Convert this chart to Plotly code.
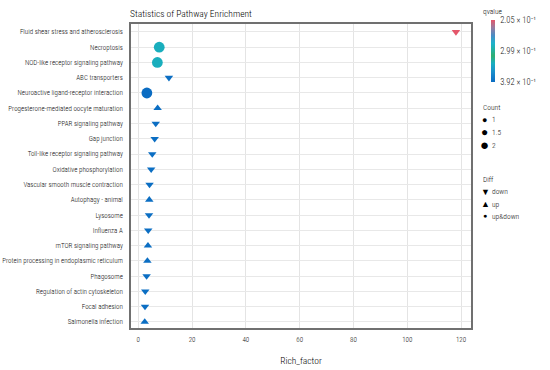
import plotly.graph_objects as go

pathways = [
    "Fluid shear stress and atherosclerosis",
    "Necroptosis",
    "NOD-like receptor signaling pathway",
    "ABC transporters",
    "Neuroactive ligand-receptor interaction",
    "Progesterone-mediated oocyte maturation",
    "PPAR signaling pathway",
    "Gap junction",
    "Toll-like receptor signaling pathway",
    "Oxidative phosphorylation",
    "Vascular smooth muscle contraction",
    "Autophagy - animal",
    "Lysosome",
    "Influenza A",
    "mTOR signaling pathway",
    "Protein processing in endoplasmic reticulum",
    "Phagosome",
    "Regulation of actin cytoskeleton",
    "Focal adhesion",
    "Salmonella infection",
]
rich_factor = [118.1, 7.8, 7.1, 11.4, 3.2, 7.2, 6.5, 6.1, 5.2, 4.8,
               4.2, 4.1, 4.0, 3.7, 3.6, 3.4, 3.1, 2.6, 2.5, 2.4]
qvalue = [0.205, 0.335, 0.335, 0.390, 0.392, 0.390, 0.390, 0.390, 0.390, 0.390,
          0.390, 0.390, 0.390, 0.390, 0.390, 0.390, 0.390, 0.390, 0.390, 0.390]
count = [1, 2, 2, 1, 2, 1, 1, 1, 1, 1, 1, 1, 1, 1, 1, 1, 1, 1, 1, 1]
diff = ["down", "up&down", "up&down", "down", "up&down", "up", "down", "down", "down", "down",
        "down", "up", "down", "down", "up", "up", "down", "down", "down", "up"]

count_labels = ["1", "1.5", "2"]
diff_levels = ["down", "up", "up&down"]
diff_glyphs = ["▼", "▲", "●"]
q_ticks = [0.205, 0.299, 0.392]
q_ticktext = ["2.05 × 10⁻¹", "2.99 × 10⁻¹", "3.92 × 10⁻¹"]

symbol_map = {"down": "triangle-down", "up": "triangle-up", "up&down": "circle"}

def size_of(c):
    return 4 + 3.4 * c

FONT = "Roboto Condensed, Liberation Sans, Arial, sans-serif"
TXT = "#111111"
WEIGHT = 300

# plot area in pixels
PX0, PX1, PY0, PY1 = 131, 471, 24, 328
W, H = 550, 370

def px(x):
    return (x - PX0) / (PX1 - PX0)

def py(y):
    return (PY1 - y) / (PY1 - PY0)

# colour scale: low q (top, red) -> high q (bottom, blue); we plot -q so low q is on top
colorscale = [
    [0.0, "#0a6cc2"],
    [0.15, "#1a8ccc"],
    [0.3, "#18aec0"],
    [0.42, "#2fae72"],
    [0.52, "#22b0a0"],
    [0.62, "#1cb2cc"],
    [0.75, "#4a8cc4"],
    [0.88, "#9a7a9e"],
    [1.0, "#e4566a"],
]

fig = go.Figure()
fig.add_trace(go.Scatter(
    x=rich_factor,
    y=pathways,
    mode="markers",
    showlegend=False,
    marker=dict(
        symbol=[symbol_map[d] for d in diff],
        size=[size_of(c) for c in count],
        color=[-q for q in qvalue],
        cmin=-max(q_ticks),
        cmax=-min(q_ticks),
        colorscale=colorscale,
        opacity=1,
        line=dict(width=0),
        colorbar=dict(
            tickvals=[-q for q in q_ticks],
            ticktext=q_ticktext,
            tickfont=dict(size=8.5, family=FONT, color=TXT, weight=WEIGHT),
            ticks="outside",
            ticklen=4,
            tickcolor="rgba(0,0,0,0)",
            outlinewidth=0,
            thickness=4,
            thicknessmode="pixels",
            len=62,
            lenmode="pixels",
            xref="container",
            yref="container",
            x=491 / W,
            xanchor="left",
            y=1 - 24 / H,
            yanchor="top",
            xpad=0,
            ypad=0,
        ),
    ),
))

annotations = []
def ann(text, x, y, size, xanchor="left", color=TXT, family=FONT):
    annotations.append(dict(
        text=text, x=px(x), y=py(y), xref="paper", yref="paper",
        xanchor=xanchor, yanchor="middle", showarrow=False,
        font=dict(size=size, family=family, color=color, weight=WEIGHT),
    ))

# colorbar title
ann("qvalue", 481, 12, 7.5)
# Count legend
ann("Count", 481, 108, 7.5)
count_glyph_sizes = [9, 12, 15]
count_y = [119.5, 132, 145]
for lab, gs, yy in zip(count_labels, count_glyph_sizes, count_y):
    ann("●", 484, yy, gs, xanchor="center", color="black", family="DejaVu Sans")
    ann(lab, 490, yy, 7.5)
# Diff legend
ann("Diff", 481, 180, 7.5)
diff_glyph_sizes = [9, 9, 7]
diff_y = [192, 204, 216]
for lab, g, gs, yy in zip(diff_levels, diff_glyphs, diff_glyph_sizes, diff_y):
    ann(g, 485, yy, gs, xanchor="center", color="black", family="DejaVu Sans")
    ann(lab, 490, yy, 7.5)

fig.update_layout(
    width=W,
    height=H,
    margin=dict(l=PX0, r=W - PX1, t=PY0, b=H - PY1),
    paper_bgcolor="white",
    plot_bgcolor="white",
    font=dict(family=FONT, color=TXT, weight=WEIGHT),
    title=dict(text="Statistics of Pathway Enrichment", x=130 / W, xanchor="left",
               y=1 - 14 / H, yanchor="middle",
               font=dict(size=9.5, family=FONT, color="#000", weight=WEIGHT)),
    xaxis=dict(
        range=[-2.7, 123.7],
        tickvals=[0, 20, 40, 60, 80, 100, 120],
        tickfont=dict(size=7, family=FONT, color=TXT, weight=WEIGHT),
        showgrid=True, gridcolor="#e4e4e4", gridwidth=1,
        zeroline=False,
        showline=True, linecolor="#707070", linewidth=1.5, mirror=True,
        ticks="", ticklabelstandoff=4,
        automargin=False,
        title=dict(text="Rich_factor", font=dict(size=9.5, family=FONT, color="#000", weight=WEIGHT),
                   standoff=14),
    ),
    yaxis=dict(
        type="category",
        categoryorder="array",
        categoryarray=pathways,
        range=[19.4, -0.52],
        tickfont=dict(size=7, family=FONT, color=TXT, weight=WEIGHT),
        showgrid=True, gridcolor="#e8e8e8", gridwidth=1,
        zeroline=False,
        showline=True, linecolor="#707070", linewidth=1.5, mirror=True,
        ticks="", ticklabelstandoff=5,
        automargin=False,
    ),
    annotations=annotations,
    showlegend=False,
)

fig.write_html("out.html", config={"displayModeBar": False},
               post_script="document.body.style.margin='0';")
